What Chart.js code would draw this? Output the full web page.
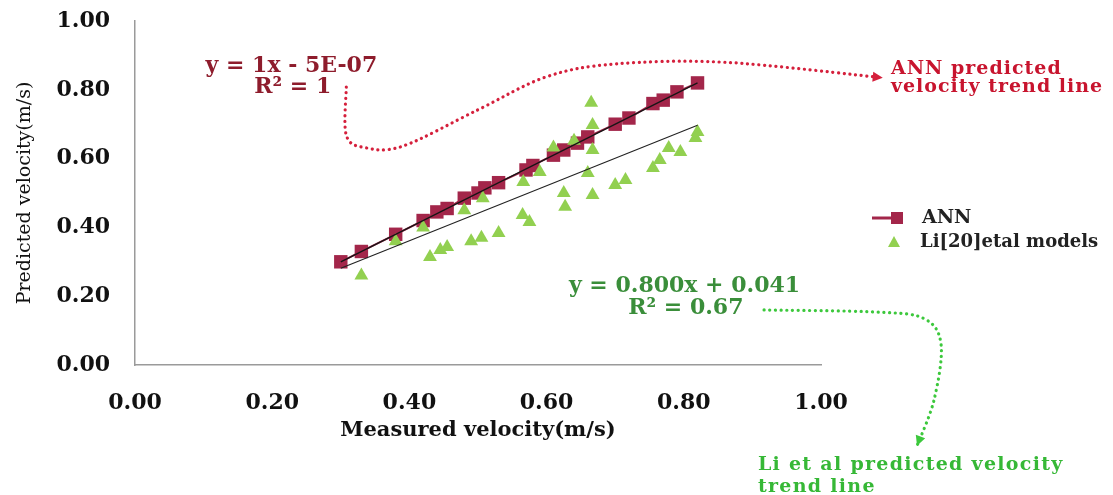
<!DOCTYPE html>
<html><head><meta charset="utf-8">
<script src="https://cdn.jsdelivr.net/npm/chart.js@4.4.0/dist/chart.umd.min.js"></script>
<style>html,body{margin:0;padding:0;background:#fff;}#wrap{width:1113px;height:495px;}</style>
</head><body><div id="wrap"><canvas id="c" width="1113" height="495"></canvas></div>
<script>
// ---- data ----
const annX = [0.30,0.33,0.38,0.42,0.44,0.455,0.48,0.50,0.51,0.53,0.57,0.58,0.61,0.625,0.645,0.66,0.70,0.72,0.755,0.77,0.79,0.82];
const annY = [0.30,0.33,0.38,0.42,0.445,0.455,0.485,0.50,0.515,0.53,0.567,0.58,0.61,0.625,0.645,0.663,0.70,0.718,0.76,0.77,0.794,0.82];
const liX = [0.33,0.38,0.42,0.43,0.445,0.455,0.48,0.49,0.505,0.507,0.53,0.565,0.575,0.566,0.59,0.61,0.64,0.625,0.627,0.66,0.667,0.667,0.667,0.665,0.70,0.715,0.755,0.765,0.778,0.795,0.817,0.82];
const liY = [0.26,0.36,0.40,0.314,0.334,0.343,0.45,0.36,0.37,0.485,0.384,0.436,0.416,0.532,0.561,0.632,0.652,0.50,0.46,0.558,0.494,0.625,0.698,0.762,0.523,0.538,0.573,0.596,0.631,0.619,0.66,0.677];
const annTrendX = [0.30, 0.82];
const annTrendY = [0.30, 0.82];
const liTrendX = [0.30, 0.82];
const liTrendY = [0.281, 0.697];
const axisMin = 0, axisMax = 1, axisStep = 0.2;
const seriesNames = ['ANN', 'Li[20]etal models'];
const xTitle = 'Measured velocity(m/s)';
const yTitle = 'Predicted velocity(m/s)';
const annEq = ['y = 1x - 5E-07', 'R\u00B2 = 1'];
const liEq = ['y = 0.800x + 0.041', 'R\u00B2 = 0.67'];
const annNote = ['ANN predicted', 'velocity trend line'];
const liNote = ['Li et al predicted velocity', 'trend line'];

const ANN_COL = '#A3264A';
const LI_COL = '#92D050';
const SERIF = "'DejaVu Serif', serif";

const pts = (xs, ys) => xs.map((x, i) => ({x, y: ys[i]}));

// annotation geometry in data units
const redPath = [[0.308,0.808],[0.308,0.668],[0.335,0.632],[0.39,0.636],[0.50,0.742],[0.60,0.838],[0.70,0.875],[0.86,0.880],[1.09,0.835]];
const greenPath = [[0.917,0.160],[1.08,0.154],[1.15,0.135],[1.175,0.06],[1.165,-0.10],[1.14,-0.235]];

function smooth(ctx, p) {
  ctx.moveTo(p[0][0], p[0][1]);
  for (let i = 0; i < p.length - 1; i++) {
    const p0 = p[i-1] || p[i], p1 = p[i], p2 = p[i+1], p3 = p[i+2] || p2;
    ctx.bezierCurveTo(p1[0]+(p2[0]-p0[0])/6, p1[1]+(p2[1]-p0[1])/6,
                      p2[0]-(p3[0]-p1[0])/6, p2[1]-(p3[1]-p1[1])/6, p2[0], p2[1]);
  }
}
function arrowHead(ctx, from, to, color, len, hw) {
  const a = Math.atan2(to[1]-from[1], to[0]-from[0]);
  ctx.save();
  ctx.fillStyle = color;
  ctx.beginPath();
  ctx.moveTo(to[0], to[1]);
  ctx.lineTo(to[0]-len*Math.cos(a)+hw*Math.sin(a), to[1]-len*Math.sin(a)-hw*Math.cos(a));
  ctx.lineTo(to[0]-len*Math.cos(a)-hw*Math.sin(a), to[1]-len*Math.sin(a)+hw*Math.cos(a));
  ctx.closePath(); ctx.fill();
  ctx.restore();
}
function text(ctx, s, x, y, font, color, align, spacing) {
  ctx.save();
  ctx.font = font; ctx.fillStyle = color; ctx.textAlign = align; ctx.textBaseline = 'middle';
  if ('letterSpacing' in ctx) ctx.letterSpacing = (spacing || 0) + 'px';
  ctx.fillText(s, x, y);
  ctx.restore();
}

const annoPlugin = {
  id: 'anno',
  afterDraw(chart) {
    const ctx = chart.ctx, sx = chart.scales.x, sy = chart.scales.y;
    const P = (a) => [sx.getPixelForValue(a[0]), sy.getPixelForValue(a[1])];
    // red dotted curve
    const rp = redPath.map(P);
    ctx.save();
    ctx.strokeStyle = '#D5203C'; ctx.lineWidth = 3.2; ctx.lineCap = 'round';
    ctx.setLineDash([0.1, 5.6]);
    ctx.beginPath(); smooth(ctx, rp); ctx.stroke();
    ctx.restore();
    arrowHead(ctx, rp[rp.length-2], rp[rp.length-1], '#D5203C', 10, 5);
    // green dotted curve
    const gp = greenPath.map(P);
    ctx.save();
    ctx.strokeStyle = '#3CC83C'; ctx.lineWidth = 3.2; ctx.lineCap = 'round';
    ctx.setLineDash([0.1, 5.6]);
    ctx.beginPath(); smooth(ctx, gp); ctx.stroke();
    ctx.restore();
    arrowHead(ctx, gp[gp.length-2], gp[gp.length-1], '#3CC83C', 10, 5);

    // equations
    let q = P([0.228, 0.869]);
    text(ctx, annEq[0], q[0], q[1], 'bold 22px ' + SERIF, '#8E1C2C', 'center', 0);
    q = P([0.230, 0.806]);
    text(ctx, annEq[1], q[0], q[1], 'bold 22px ' + SERIF, '#8E1C2C', 'center', 0);
    q = P([0.801, 0.230]);
    text(ctx, liEq[0], q[0], q[1], 'bold 22px ' + SERIF, '#3A8E3A', 'center', 0);
    q = P([0.803, 0.166]);
    text(ctx, liEq[1], q[0], q[1], 'bold 22px ' + SERIF, '#3A8E3A', 'center', 0);
    // notes
    q = P([1.102, 0.860]);
    text(ctx, annNote[0], q[0], q[1], 'bold 19px ' + SERIF, '#C8142E', 'left', 1);
    q = P([1.102, 0.808]);
    text(ctx, annNote[1], q[0], q[1], 'bold 19px ' + SERIF, '#C8142E', 'left', 1);
    q = P([0.908, -0.291]);
    text(ctx, liNote[0], q[0], q[1], 'bold 19px ' + SERIF, '#36B836', 'left', 1.3);
    q = P([0.908, -0.355]);
    text(ctx, liNote[1], q[0], q[1], 'bold 19px ' + SERIF, '#36B836', 'left', 1.3);

    // legend
    const ca = chart.chartArea;
    const lx = ca.right + 51, ly1 = 218, ly2 = 242;
    ctx.save();
    ctx.strokeStyle = ANN_COL; ctx.lineWidth = 3;
    ctx.beginPath(); ctx.moveTo(lx, ly1); ctx.lineTo(lx + 25, ly1); ctx.stroke();
    ctx.fillStyle = ANN_COL; ctx.fillRect(lx + 19, ly1 - 6, 12, 12);
    ctx.fillStyle = LI_COL;
    ctx.beginPath(); ctx.moveTo(lx + 22, ly2 - 6); ctx.lineTo(lx + 28, ly2 + 5); ctx.lineTo(lx + 16, ly2 + 5); ctx.closePath(); ctx.fill();
    ctx.restore();
    text(ctx, seriesNames[0], lx + 50, ly1, 'bold 19px ' + SERIF, '#222', 'left', 0);
    text(ctx, seriesNames[1], lx + 48, ly2, 'bold 18px ' + SERIF, '#222', 'left', 0);
  }
};

const tickFont = {family: SERIF, size: 22, weight: 'bold'};
new Chart(document.getElementById('c'), {
  type: 'scatter',
  data: {
    datasets: [
      {label: 'ANN trend', data: pts(annTrendX, annTrendY), showLine: true, borderColor: '#151515', borderWidth: 1.3, pointRadius: 0, order: 0},
      {label: 'Li trend', data: pts(liTrendX, liTrendY), showLine: true, borderColor: '#222', borderWidth: 1.1, pointRadius: 0, order: 0},
      {label: seriesNames[1], data: pts(liX, liY), pointStyle: 'triangle', pointRadius: 8, backgroundColor: LI_COL, borderColor: LI_COL, borderWidth: 0, order: 1},
      {label: seriesNames[0], data: pts(annX, annY), showLine: true, borderColor: ANN_COL, borderWidth: 2, pointStyle: 'rect', pointRadius: 9.5, backgroundColor: ANN_COL, pointBorderColor: ANN_COL, pointBorderWidth: 0, order: 2}
    ]
  },
  options: {
    responsive: false,
    animation: false,
    devicePixelRatio: 1,
    layout: {padding: {left: 0, top: 21, right: 292, bottom: 0}},
    plugins: {legend: {display: false}, tooltip: {enabled: false}},
    scales: {
      x: {
        type: 'linear', min: axisMin, max: axisMax,
        grid: {display: false},
        border: {display: true, color: '#9a9a9a', width: 1.5},
        ticks: {stepSize: axisStep, padding: 17, color: '#111', font: tickFont, callback: v => v.toFixed(2)},
        title: {display: true, text: xTitle, color: '#111', font: {family: SERIF, size: 21, weight: 'bold'}, padding: {top: 0, bottom: 52}},
        afterFit: s => { s.height = 130; s.paddingLeft = 0; s.paddingRight = 0; }
      },
      y: {
        type: 'linear', min: axisMin, max: axisMax,
        grid: {display: false},
        border: {display: true, color: '#9a9a9a', width: 1.5},
        ticks: {stepSize: axisStep, padding: 17, color: '#111', font: tickFont, callback: v => v.toFixed(2)},
        title: {display: true, text: yTitle, color: '#111', font: {family: SERIF, size: 19, weight: 'normal'}, padding: {top: 14, bottom: 0}},
        afterFit: s => { s.width = 135; s.paddingTop = 0; s.paddingBottom = 0; }
      }
    }
  },
  plugins: [annoPlugin]
});
</script>
</body></html>
